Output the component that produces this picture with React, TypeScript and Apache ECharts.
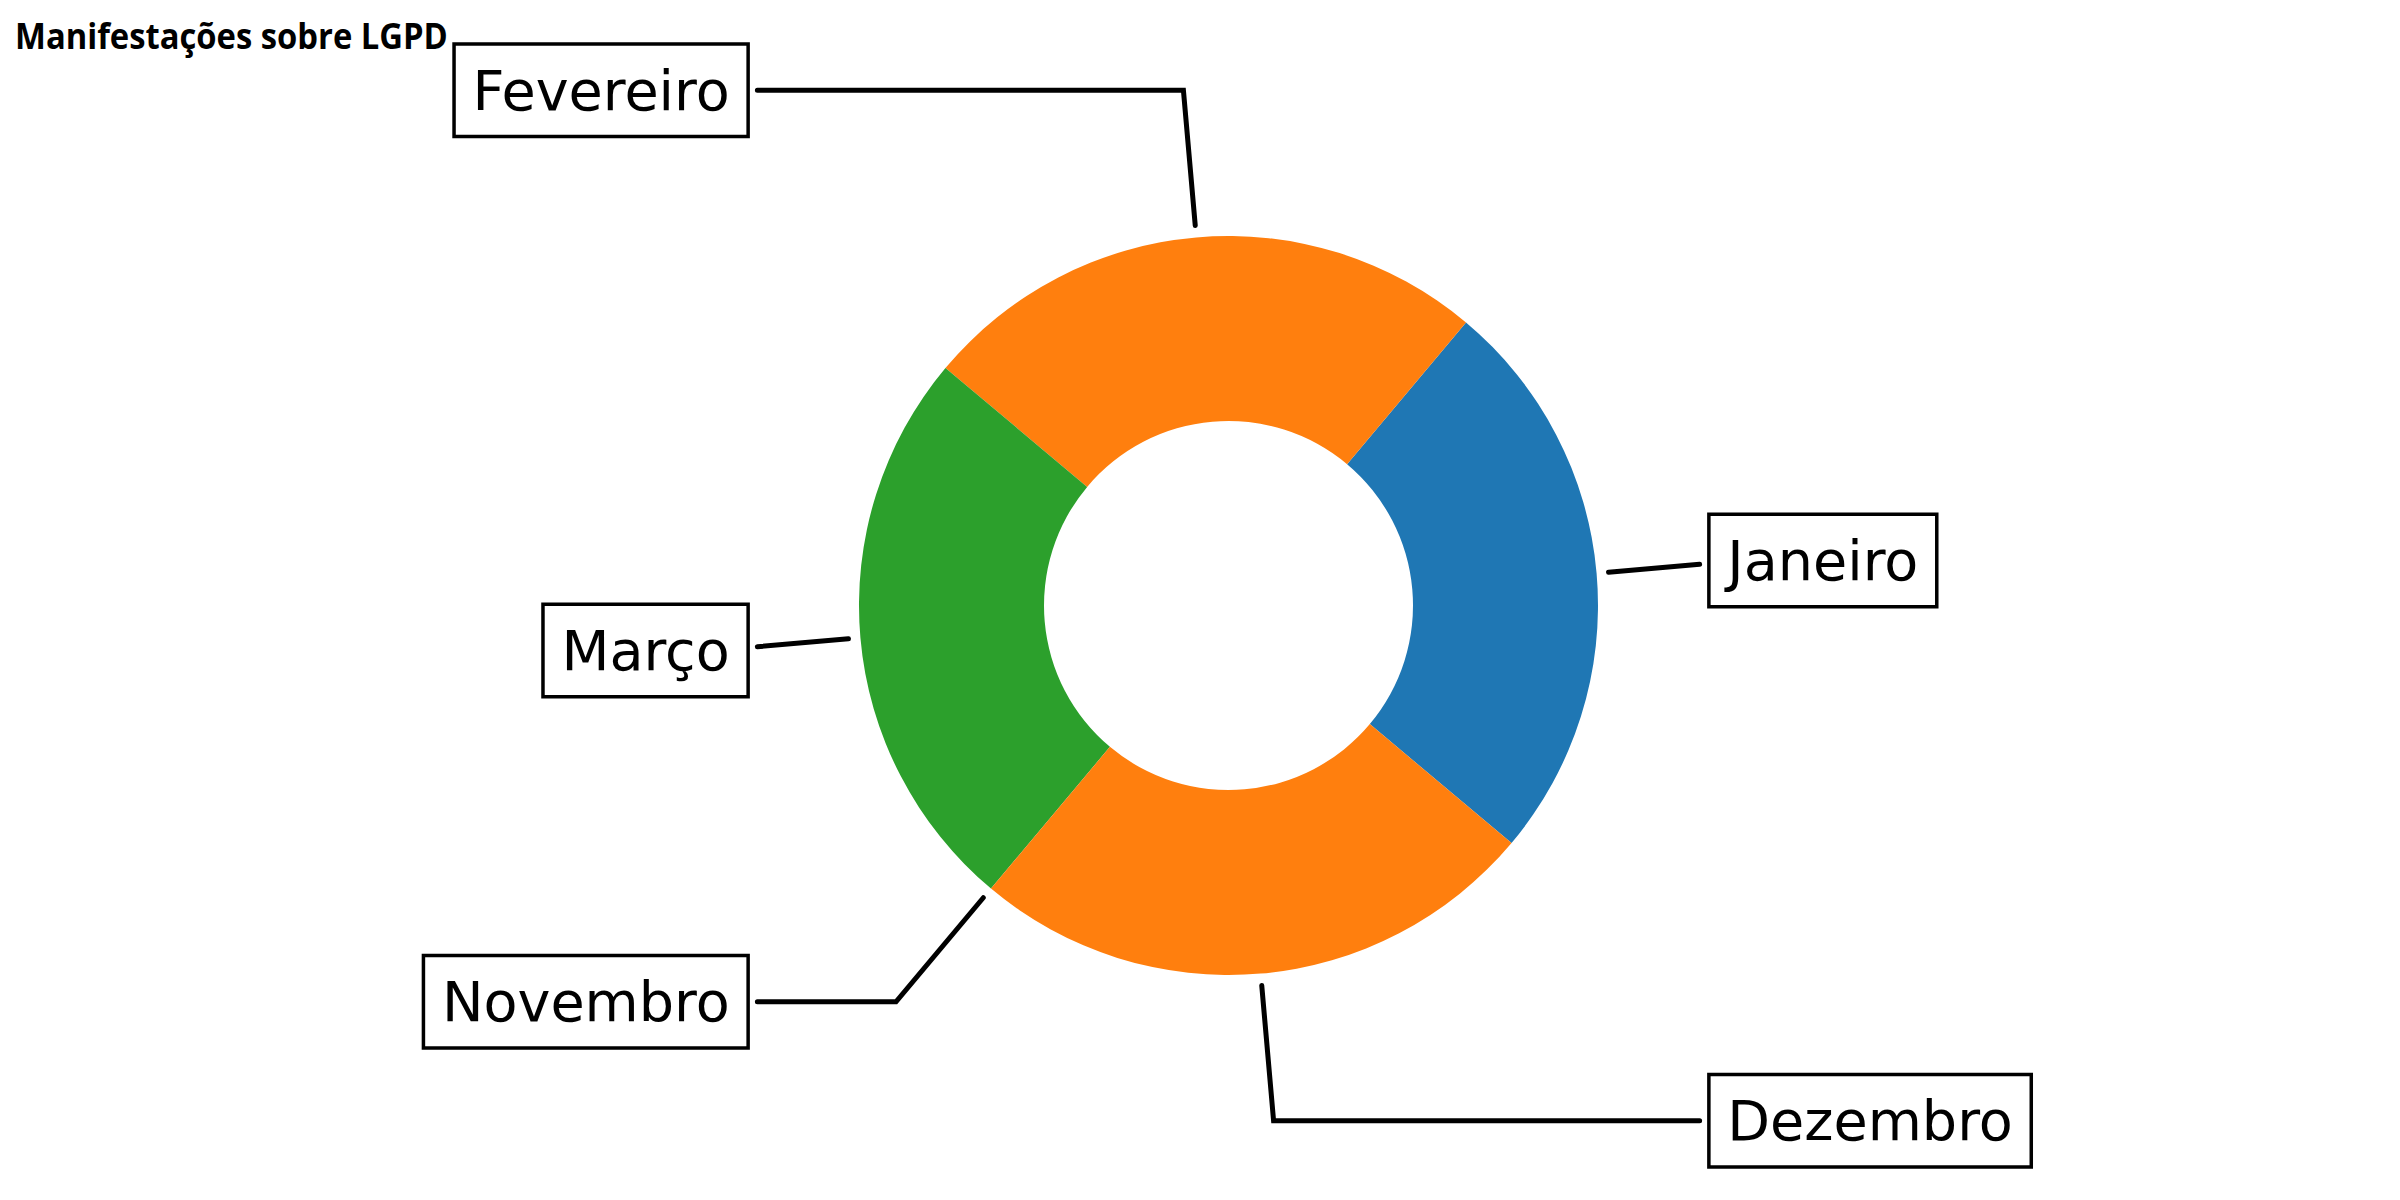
import React, { useEffect, useRef } from "react";
import * as echarts from "echarts";

// ---- data ----
const months: string[] = ["Janeiro", "Fevereiro", "Março", "Novembro", "Dezembro"];
const counts: number[] = [1, 1, 1, 0, 1];
const sliceColors: string[] = ["#1f77b4", "#ff7f0e", "#2ca02c", "#d62728", "#ff7f0e"];
const titleText = "Manifestações sobre LGPD";

// ---- layout ----
const CX = 1228.5;
const CY = 605.5;
const R = 369.5;
const R0 = 184.5;
const START = -40; // degrees, counter-clockwise
const PAD = 16.7;
const SHRINK_A = 11; // gap at the box
const SHRINK_B = 12; // gap at the wedge

function midAngles(): number[] {
  const total = counts.reduce((a, b) => a + b, 0);
  const out: number[] = [];
  let cum = 0;
  for (const v of counts) {
    out.push(START + (360 * (cum + v / 2)) / total);
    cum += v;
  }
  return out;
}

export default function App() {
  const ref = useRef<HTMLDivElement>(null);
  useEffect(() => {
    if (!ref.current) return;
    const chart = echarts.init(ref.current, null, { renderer: "svg" });
    const mids = midAngles();

    let scaleX = 1;
    const titleSize = 36;
    try {
      const cv = document.createElement("canvas");
      const ctx = cv.getContext("2d");
      if (ctx) {
        ctx.font = "bold " + titleSize + "px 'Open Sans'";
        const w = ctx.measureText(titleText).width;
        if (w > 0) scaleX = 433 / w;
      }
    } catch (e) {}

    chart.setOption({
      animation: false,
      backgroundColor: "#ffffff",
      graphic: [
        {
          type: "text",
          x: 15,
          y: 35,
          scaleX: scaleX,
          style: {
            text: titleText,
            fontFamily: "Open Sans",
            fontWeight: "bold",
            fontSize: titleSize,
            fill: "#000",
            align: "left",
            verticalAlign: "middle",
          },
        },
      ],
      series: [
        {
          type: "pie",
          center: [CX, CY],
          radius: [R0, R],
          startAngle: START,
          clockwise: false,
          avoidLabelOverlap: false,
          minShowLabelAngle: 0,
          emphasis: { disabled: true },
          data: months.map((m, i) => ({
            name: m,
            value: counts[i],
            itemStyle: { color: sliceColors[i] },
          })),
          label: {
            show: true,
            position: "outside",
            formatter: "{b}",
            color: "#000",
            fontFamily: "DejaVu Sans",
            fontSize: 55.6,
            lineHeight: 56,
            backgroundColor: "#ffffff",
            borderColor: "#000",
            borderWidth: 3.5,
            padding: [9, PAD, 24, PAD],
          },
          labelLine: {
            show: true,
            smooth: false,
            lineStyle: { color: "#000", width: 5, cap: "round", join: "miter" },
          },
          labelLayout: (params: any) => {
            const i = params.dataIndex;
            const a = (mids[i] * Math.PI) / 180;
            const c = Math.cos(a);
            const s = Math.sin(a);
            const sign = c >= 0 ? 1 : -1;
            const tx = CX + sign * 1.35 * R;
            const ty = CY - 1.4 * R * s;
            const boxEdge = tx - sign * PAD;
            const lineEnd = boxEdge - sign * SHRINK_A;
            const p0 = [CX + (R + SHRINK_B) * c, CY - (R + SHRINK_B) * s];
            let corner = [CX + 1.4 * R * c, CY - 1.4 * R * s];
            let pts: number[][];
            if ((corner[0] - lineEnd) * sign > 0) {
              const t = (lineEnd - CX) / c;
              corner = [lineEnd, CY - t * s];
              pts = [p0, corner, corner];
            } else {
              pts = [p0, corner, [lineEnd, ty]];
            }
            return {
              x: boxEdge,
              y: ty,
              align: sign > 0 ? "left" : "right",
              verticalAlign: "middle",
              labelLinePoints: pts,
            };
          },
        },
      ],
    });
    return () => chart.dispose();
  }, []);
  return (
    <div
      ref={ref}
      style={{ position: "absolute", left: 0, top: 0, width: 2400, height: 1200 }}
    />
  );
}
